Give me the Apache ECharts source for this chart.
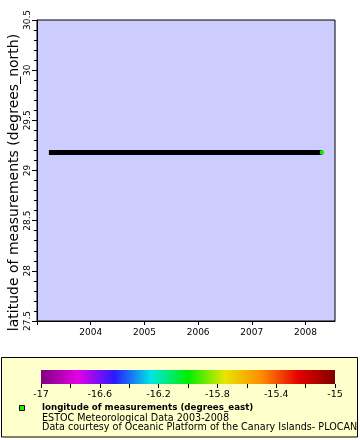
<!DOCTYPE html>
<html>
<head>
<meta charset="utf-8">
<script src="https://cdn.jsdelivr.net/npm/echarts@6/dist/echarts.min.js"></script>
<style>html,body{margin:0;padding:0;background:#fff}#c{width:360px;height:440px}</style>
</head>
<body>
<div id="c"></div>
<script>
// ---- data ----
const dates = ['2003-03-23', '2008-04-22'];
const latitudes = [29.18, 29.18];
const lastLongitude = -15.98;
const xRange = ['2003-01-01', '2008-07-20'];
const yTicks = [27.5, 28, 28.5, 29, 29.5, 30, 30.5];
const xTickYears = ['2004', '2005', '2006', '2007', '2008'];
const colorbarRange = [-17, -15];
const colorbarLabels = ['-17', '-16.6', '-16.2', '-15.8', '-15.4', '-15'];
const palette = ['#800080', '#e600e6', '#2a1aff', '#00e6e6', '#00ee00', '#e6e600', '#ff8c00', '#e60000', '#800000'];
const legendTitle = 'longitude of measurements (degrees_east)';
const legendLines = ['ESTOC Meteorological Data 2003-2008', 'Data courtesy of Oceanic Platform of the Canary Islands- PLOCAN'];
const yAxisTitle = 'latitude of measurements (degrees_north)';

const FONT = 'DejaVu Sans';
const chart = echarts.init(document.getElementById('c'), null, {renderer: 'canvas'});

const lineData = dates.map((d, i) => [d, latitudes[i]]);
const lastPoint = [dates[dates.length - 1], latitudes[latitudes.length - 1], lastLongitude];

const option = {
  animation: false,
  backgroundColor: '#ffffff',
  textStyle: {fontFamily: FONT},
  grid: [
    {left: 37, top: 20, width: 298, height: 301, show: true, backgroundColor: '#ccccff', borderColor: '#000', borderWidth: 1, containLabel: false, outerBoundsMode: 'none'},
    {left: 41, top: 370, width: 294, height: 14, show: false, containLabel: false, outerBoundsMode: 'none'}
  ],
  xAxis: [
    {
      type: 'time', gridIndex: 0,
      min: +new Date(xRange[0] + 'T00:00:00'), max: +new Date(xRange[1] + 'T00:00:00'),
      splitNumber: 5,
      axisLine: {show: true, lineStyle: {color: '#000', width: 1}},
      axisTick: {show: true, length: 4, lineStyle: {color: '#000'}},
      splitLine: {show: false},
      axisLabel: {
        color: '#000', fontSize: 9, fontFamily: FONT, margin: 7,
        showMinLabel: false, showMaxLabel: false,
        formatter: function (v) {
          const y = String(new Date(v).getFullYear());
          return xTickYears.indexOf(y) >= 0 ? y : '';
        }
      }
    },
    {
      type: 'value', gridIndex: 1,
      min: colorbarRange[0], max: colorbarRange[1], interval: 0.2,
      axisLine: {show: false},
      axisTick: {show: true, length: 4, lineStyle: {color: '#000'}},
      splitLine: {show: false},
      axisLabel: {
        color: '#000', fontSize: 9.5, fontFamily: FONT, margin: 6,
        formatter: function (v) {
          const s = String(Math.round(v * 10) / 10);
          return colorbarLabels.indexOf(s) >= 0 ? s : '';
        }
      }
    }
  ],
  yAxis: [
    {
      type: 'value', gridIndex: 0,
      min: yTicks[0], max: yTicks[yTicks.length - 1], interval: 0.5,
      name: yAxisTitle, nameLocation: 'middle', nameGap: 16, nameMoveOverlap: false,
      nameTextStyle: {color: '#000', fontSize: 14, fontFamily: FONT, padding: [0, 24, 0, 0]},
      axisLine: {show: true, lineStyle: {color: '#000', width: 1}},
      axisTick: {show: true, length: 5, lineStyle: {color: '#000'}},
      minorTick: {show: true, splitNumber: 5, length: 3, lineStyle: {color: '#000'}},
      splitLine: {show: false},
      axisLabel: {color: '#000', fontSize: 9, fontFamily: FONT, rotate: 90, margin: 5}
    },
    {type: 'value', gridIndex: 1, min: 0, max: 1, show: false}
  ],
  visualMap: {
    type: 'continuous', show: false, seriesIndex: 1, dimension: 2,
    min: colorbarRange[0], max: colorbarRange[1],
    inRange: {color: palette}
  },
  series: [
    {
      type: 'line', xAxisIndex: 0, yAxisIndex: 0,
      data: lineData, showSymbol: false, symbol: 'none',
      lineStyle: {color: '#000', width: 5, cap: 'butt'},
      z: 3
    },
    {
      type: 'scatter', xAxisIndex: 0, yAxisIndex: 0,
      data: [lastPoint], symbol: 'rect', symbolSize: 4,
      itemStyle: {opacity: 1},
      z: 4
    },
    {
      type: 'custom', xAxisIndex: 1, yAxisIndex: 1,
      data: [[colorbarRange[0], 0, colorbarRange[1], 1]],
      renderItem: function (params, api) {
        const p0 = api.coord([api.value(0), api.value(3)]);
        const p1 = api.coord([api.value(2), api.value(1)]);
        const stops = palette.map((c, i) => ({offset: i / (palette.length - 1), color: c}));
        return {
          type: 'rect',
          shape: {x: p0[0], y: p0[1], width: p1[0] - p0[0], height: p1[1] - p0[1]},
          style: {fill: new echarts.graphic.LinearGradient(0, 0, 1, 0, stops)}
        };
      },
      silent: true
    }
  ],
  graphic: [
    {type: 'rect', z: -1, shape: {x: 1.5, y: 357.5, width: 356, height: 79.5}, style: {fill: '#ffffcc', stroke: '#000', lineWidth: 1}},
    {type: 'rect', z: 10, shape: {x: 19.5, y: 405.5, width: 5, height: 5}, style: {fill: '#22ee00', stroke: '#000', lineWidth: 1}},
    {type: 'text', z: 10, x: 42, y: 408, style: {text: legendTitle, font: 'bold 8.7px "DejaVu Sans"', fill: '#000', verticalAlign: 'middle'}},
    {type: 'text', z: 10, x: 42, y: 418, style: {text: legendLines[0], font: '9.6px "DejaVu Sans"', fill: '#000', verticalAlign: 'middle'}},
    {type: 'text', z: 10, x: 42, y: 427.5, style: {text: legendLines[1], font: '9.6px "DejaVu Sans"', fill: '#000', verticalAlign: 'middle'}}
  ]
};
chart.setOption(option);
</script>
</body>
</html>
